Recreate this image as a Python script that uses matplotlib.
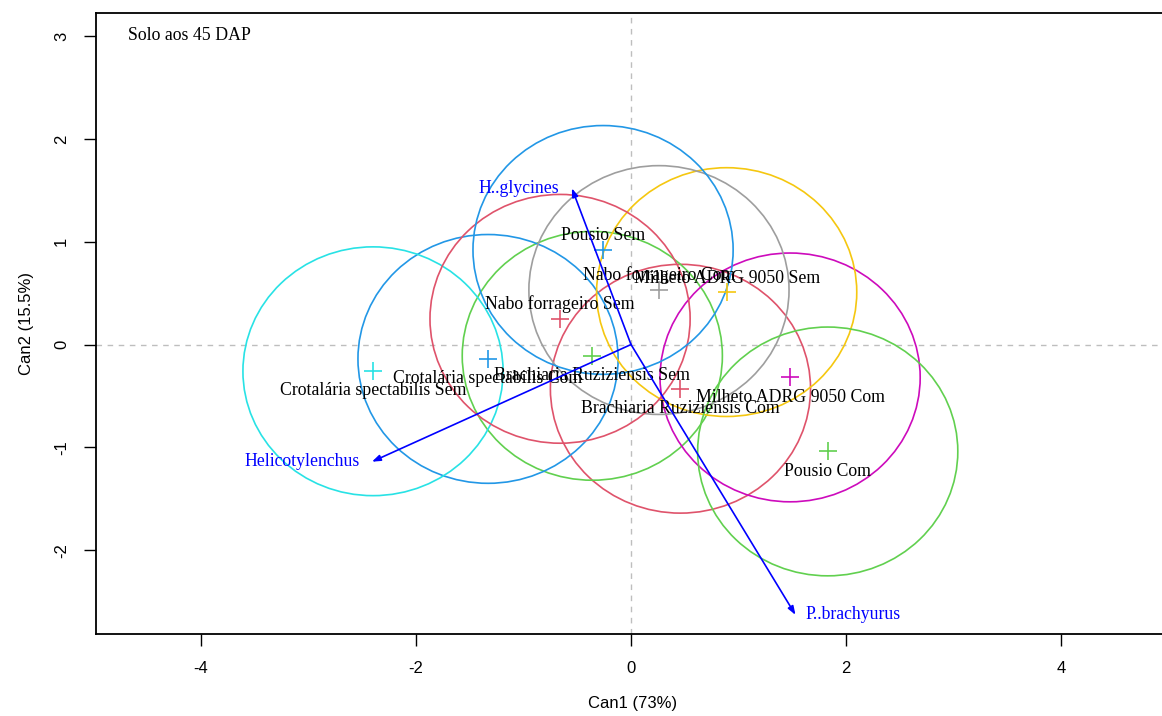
import numpy as np
import matplotlib
matplotlib.use("Agg")
import matplotlib.pyplot as plt
from matplotlib.patches import Circle

plt.rcParams['font.family'] = ['Liberation Serif', 'DejaVu Serif']
plt.rcParams['axes.unicode_minus'] = False

# centroides dos grupos (Can1, Can2)
grupos = ["Brachiaria Ruziziensis Com", "Brachiaria Ruziziensis Sem",
          "Crotalária spectabilis Com", "Crotalária spectabilis Sem",
          "Milheto ADRG 9050 Com", "Milheto ADRG 9050 Sem",
          "Nabo forrageiro Com", "Nabo forrageiro Sem",
          "Pousio Com", "Pousio Sem"]
can1 = [0.46, -0.36, -1.33, -2.40, 1.48, 0.89, 0.26, -0.66, 1.83, -0.26]
can2 = [-0.43, -0.11, -0.14, -0.26, -0.32, 0.51, 0.53, 0.25, -1.04, 0.92]
cores = ["#DF536B", "#61D04F", "#2297E6", "#28E2E5", "#CD0BBC",
         "#F5C710", "#9E9E9E", "#DF536B", "#61D04F", "#2297E6"]
raio = 1.21

# vetores das variaveis
variaveis = ["H..glycines", "Helicotylenchus", "P..brachyurus"]
vx = [-0.55, -2.41, 1.53]
vy = [1.52, -1.14, -2.63]

fig = plt.figure(figsize=(11.62, 7.16), dpi=100)
ax = fig.add_axes([0.0826, 0.1145, 0.923, 0.8678])

ax.axhline(0, color="#BEBEBE", ls=(0, (4, 4)), lw=1, zorder=0)
ax.axvline(0, color="#BEBEBE", ls=(0, (4, 4)), lw=1, zorder=0)

for x, y, c, g in zip(can1, can2, cores, grupos):
    ax.add_patch(Circle((x, y), raio, fill=False, ec=c, lw=1.2))
    ax.plot(x, y, marker="+", ms=13, mew=1.2, color=c, ls="none")
    if y > 0:
        ax.annotate(g, (x, y), xytext=(0, 4), textcoords="offset points",
                    ha="center", va="bottom", fontsize=12.8)
    else:
        ax.annotate(g, (x, y), xytext=(0, -8), textcoords="offset points",
                    ha="center", va="top", fontsize=12.8)

for nome, x, y in zip(variaveis, vx, vy):
    ax.annotate("", xy=(x, y), xytext=(0, 0),
                arrowprops=dict(arrowstyle="-|>,head_length=0.5,head_width=0.18",
                                color="blue", lw=1.2, shrinkA=0, shrinkB=0))
    if x < 0:
        ax.annotate(nome, (x, y), xytext=(-9, 0), textcoords="offset points",
                    ha="right", va="center", color="blue", fontsize=12.8)
    else:
        ax.annotate(nome, (x, y), xytext=(7, 0), textcoords="offset points",
                    ha="left", va="center", color="blue", fontsize=12.8)

ax.text(0.03, 0.963, "Solo aos 45 DAP", transform=ax.transAxes,
        ha="left", va="center", fontsize=12.8)

ax.set_xlim(-4.977, 5.0)
ax.set_ylim(-2.816, 3.228)
ax.set_xticks([-4, -2, 0, 2, 4])
ax.set_yticks([-2, -1, 0, 1, 2, 3])
ax.set_yticklabels(["-2", "-1", "0", "1", "2", "3"], rotation=90, va="center")
ax.tick_params(length=8.5, width=1, pad=11, labelsize=12,
               labelfontfamily="Liberation Sans")
ax.set_xlabel("Can1 (73%)", fontsize=12, labelpad=14, family="Liberation Sans")
ax.set_ylabel("Can2 (15.5%)", fontsize=12, labelpad=14, family="Liberation Sans")
for s in ax.spines.values():
    s.set_linewidth(1.3)

fig.savefig("out.png", dpi=100)
